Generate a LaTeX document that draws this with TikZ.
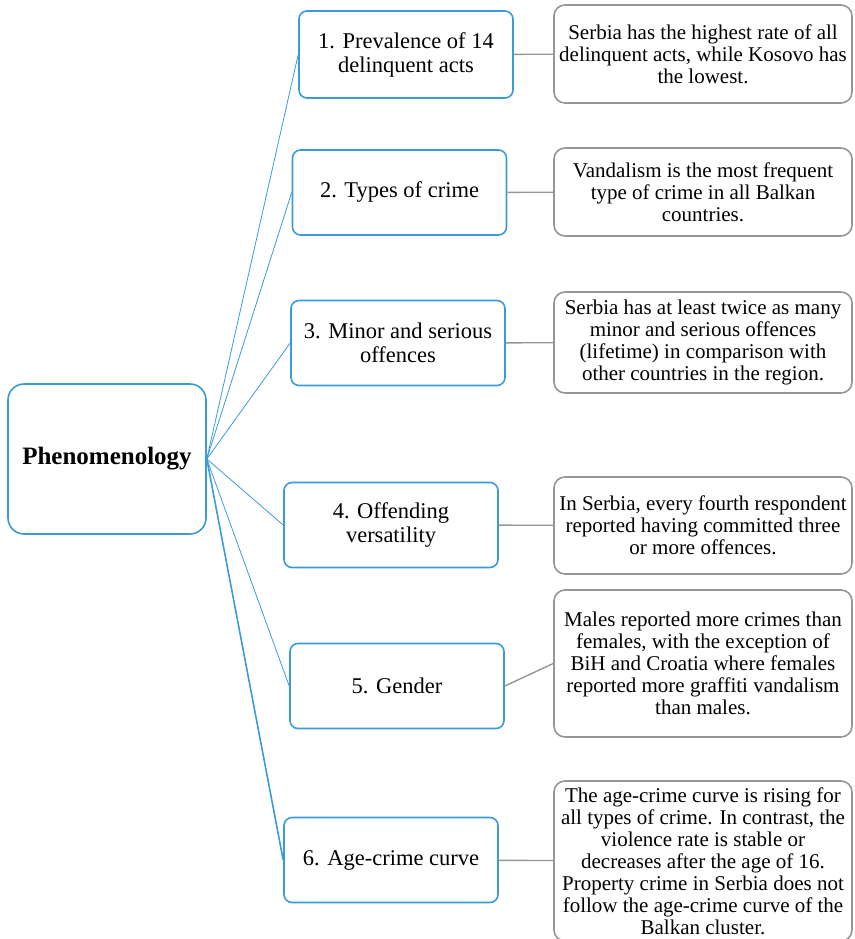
\documentclass[tikz,border=0pt]{standalone}
\usepackage{fontspec}
\setmainfont{Liberation Serif}
\usepackage{xcolor}
\usepackage{tikz}
\usetikzlibrary{positioning, calc}

\definecolor{smartblue}{RGB}{58,155,216}
\definecolor{smartgray}{RGB}{150,150,150}

\begin{document}
\begin{tikzpicture}[
    x=1pt, y=-1pt,
    root/.style={
        rectangle,
        draw=smartblue,
        line width=1.6pt,
        rounded corners=16pt,
        align=center,
        minimum width=198pt,
        minimum height=150pt,
        font=\fontsize{25}{28}\selectfont\bfseries
    },
    topic/.style={
        rectangle,
        draw=smartblue,
        line width=1.6pt,
        rounded corners=8pt,
        align=center,
        minimum width=214pt,
        minimum height=85pt,
        inner sep=0pt,
        font=\fontsize{22.5}{24}\selectfont
    },
    finding/.style={
        rectangle,
        draw=smartgray,
        line width=1.6pt,
        rounded corners=11pt,
        align=center,
        minimum width=298pt,
        inner sep=0pt,
        font=\fontsize{21}{22}\selectfont
    },
    spoke/.style={
        draw=smartblue,
        line width=0.8pt
    },
    link/.style={
        draw=smartgray,
        line width=1.4pt
    }
]
\useasboundingbox (0,0) rectangle (854,939);

% Nodes
\node [root] (phen) at (107,459) {Phenomenology};

\node [topic, minimum height=87pt] (prev) at (406,54.5) {1. Prevalence of 14\\delinquent acts};
\node [topic] (types) at (399.5,192.5) {2. Types of crime};
\node [topic] (minor) at (398,343) {3. Minor and serious\\offences};
\node [topic] (vers) at (391,525) {4. Offending\\versatility};
\node [topic] (gender) at (397,686) {5. Gender};
\node [topic] (agecurve) at (391,860) {6. Age-crime curve};

\node [finding, minimum height=98pt] (prevtxt) at (703,54) {Serbia has the highest rate of all\\delinquent acts, while Kosovo has\\the lowest.};
\node [finding, minimum height=88pt] (typestxt) at (703,192) {Vandalism is the most frequent\\type of crime in all Balkan\\countries.};
\node [finding, minimum height=101pt] (minortxt) at (703,342.5) {Serbia has at least twice as many\\minor and serious offences\\(lifetime) in comparison with\\other countries in the region.};
\node [finding, minimum height=97pt] (verstxt) at (703,525.5) {In Serbia, every fourth respondent\\reported having committed three\\or more offences.};
\node [finding, minimum height=147pt] (gendertxt) at (703,663.5) {Males reported more crimes than\\females, with the exception of\\BiH and Croatia where females\\reported more graffiti vandalism\\than males.};
\node [finding, minimum height=160pt] (agetxt) at (703,861) {The age-crime curve is rising for\\all types of crime. In contrast, the\\violence rate is stable or\\decreases after the age of 16.\\Property crime in Serbia does not\\follow the age-crime curve of the\\Balkan cluster.};

% Edges
\path [spoke] (phen.east) -- (prev.west);
\path [spoke] (phen.east) -- (types.west);
\path [spoke] (phen.east) -- (minor.west);
\path [spoke] (phen.east) -- (vers.west);
\path [spoke] (phen.east) -- (gender.west);
\path [spoke, line width=1.6pt] (phen.east) -- (agecurve.west);

\path [link] (prev) -- (prevtxt);
\path [link] (types) -- (typestxt);
\path [link] (minor) -- (minortxt);
\path [link] (vers) -- (verstxt);
\path [link] (gender.east) -- (gendertxt.west);
\path [link] (agecurve) -- (agetxt);

\end{tikzpicture}
\end{document}
